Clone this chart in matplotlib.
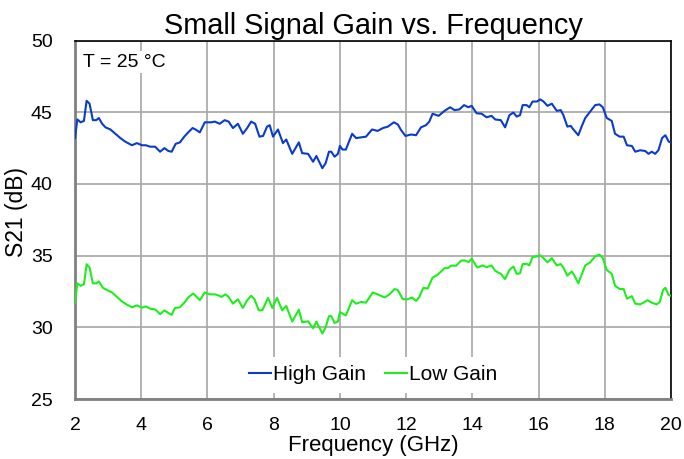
import matplotlib
matplotlib.use("Agg")
import matplotlib.pyplot as plt

plt.rcParams['font.family'] = ['Liberation Sans', 'DejaVu Sans']

# High Gain (blue) readings
hg_freq = [2.0, 2.07, 2.17, 2.27, 2.35, 2.44, 2.54, 2.64, 2.72, 2.82, 2.92, 3.07, 3.22, 3.37,
           3.52, 3.72, 3.87, 4.02, 4.14, 4.27, 4.42, 4.57, 4.7, 4.82, 4.92, 5.04, 5.17, 5.3,
           5.42, 5.55, 5.64, 5.77, 5.92, 6.12, 6.22, 6.37, 6.52, 6.64, 6.77, 6.92, 7.07, 7.2,
           7.32, 7.44, 7.57, 7.68, 7.8, 7.88, 7.98, 8.13, 8.28, 8.38, 8.56, 8.76, 8.86, 9.04,
           9.19, 9.29, 9.47, 9.57, 9.67, 9.74, 9.84, 9.94, 10.0, 10.08, 10.18, 10.37, 10.49,
           10.64, 10.79, 10.97, 11.14, 11.3, 11.45, 11.63, 11.75, 11.85, 11.98, 12.15, 12.3,
           12.45, 12.6, 12.7, 12.8, 12.98, 13.16, 13.33, 13.46, 13.61, 13.75, 13.88, 13.98,
           14.13, 14.28, 14.43, 14.58, 14.69, 14.86, 14.99, 15.12, 15.24, 15.34, 15.44, 15.52,
           15.64, 15.72, 15.82, 15.95, 16.05, 16.15, 16.27, 16.4, 16.55, 16.67, 16.75, 16.87,
           16.97, 17.07, 17.2, 17.3, 17.41, 17.56, 17.71, 17.84, 17.94, 18.06, 18.21, 18.31,
           18.45, 18.57, 18.67, 18.82, 18.92, 19.07, 19.22, 19.32, 19.42, 19.52, 19.62, 19.73,
           19.83, 19.93, 20.0]
hg_s21 = [43.2, 44.5, 44.3, 44.4, 45.8, 45.6, 44.45, 44.45, 44.6, 44.2, 43.95, 43.8, 43.5, 43.2,
          42.95, 42.7, 42.85, 42.7, 42.7, 42.6, 42.6, 42.25, 42.5, 42.3, 42.25, 42.8, 42.9, 43.3,
          43.6, 43.9, 43.8, 43.6, 44.3, 44.3, 44.35, 44.2, 44.45, 44.35, 43.9, 44.2, 43.5, 43.9,
          44.35, 44.2, 43.3, 43.35, 44.0, 44.1, 43.3, 43.8, 42.85, 43.1, 42.1, 42.9, 42.15, 42.1,
          41.55, 41.95, 41.1, 41.45, 42.25, 42.25, 41.9, 42.1, 42.65, 42.4, 42.4, 43.5, 43.2,
          43.25, 43.3, 43.8, 43.7, 43.9, 44.0, 44.3, 44.15, 43.75, 43.35, 43.45, 43.4,
          43.95, 44.1, 44.35, 44.9, 44.75, 45.1, 45.35, 45.15, 45.2, 45.5, 45.35, 45.45,
          44.93, 44.9, 44.65, 44.75, 44.5, 44.45, 43.95, 44.8, 44.98, 44.7, 44.8, 45.5,
          45.5, 45.35, 45.75, 45.75, 45.9, 45.75, 45.45, 45.6, 45.1, 45.15, 44.8, 44.0,
          44.05, 43.75, 43.4, 44.0, 44.6, 45.05, 45.5, 45.55, 45.35, 44.6, 44.4, 43.5,
          43.3, 43.3, 42.7, 42.65, 42.25, 42.35, 42.3, 42.1, 42.25, 42.1, 42.35, 43.2,
          43.4, 42.95, 42.9]

# Low Gain (green) readings
lg_freq = [2.0, 2.07, 2.17, 2.27, 2.35, 2.44, 2.54, 2.64, 2.72, 2.84, 2.97, 3.12, 3.27, 3.42,
           3.57, 3.72, 3.87, 4.02, 4.14, 4.27, 4.42, 4.57, 4.7, 4.82, 4.92, 5.02, 5.17, 5.32,
           5.42, 5.57, 5.64, 5.77, 5.92, 6.07, 6.22, 6.32, 6.42, 6.54, 6.64, 6.77, 6.92, 7.07,
           7.2, 7.32, 7.42, 7.55, 7.66, 7.83, 7.96, 8.1, 8.26, 8.38, 8.56, 8.76, 8.86, 9.04,
           9.19, 9.29, 9.47, 9.57, 9.67, 9.74, 9.84, 9.94, 10.0, 10.18, 10.37, 10.49, 10.64,
           10.79, 10.99, 11.14, 11.35, 11.5, 11.65, 11.75, 11.9, 12.05, 12.18, 12.3, 12.4,
           12.52, 12.65, 12.8, 12.95, 13.16, 13.26, 13.36, 13.51, 13.66, 13.76, 13.89, 13.98,
           14.15, 14.31, 14.43, 14.58, 14.69, 14.86, 14.99, 15.12, 15.24, 15.34, 15.44, 15.52,
           15.64, 15.72, 15.82, 15.95, 16.05, 16.15, 16.27, 16.4, 16.55, 16.67, 16.75, 16.87,
           17.0, 17.07, 17.2, 17.3, 17.41, 17.56, 17.71, 17.84, 17.94, 18.06, 18.21, 18.31,
           18.45, 18.57, 18.67, 18.82, 18.92, 19.07, 19.15, 19.29, 19.42, 19.57, 19.66, 19.76,
           19.83, 19.93, 20.0]
lg_s21 = [31.7, 33.07, 32.9, 33.0, 34.4, 34.17, 33.07, 33.07, 33.2, 32.76, 32.6, 32.43, 32.12, 31.8,
          31.58, 31.4, 31.53, 31.37, 31.46, 31.3, 31.25, 30.92, 31.18, 31.0, 30.87, 31.35, 31.4, 31.77,
          32.08, 32.36, 32.2, 31.89, 32.43, 32.3, 32.3, 32.24, 32.12, 32.3, 32.12, 31.65, 31.96, 31.35,
          31.89, 32.2, 31.96, 31.18, 31.2, 32.05, 31.35, 32.05, 31.18, 31.49, 30.4, 31.23, 30.35, 30.42,
          29.93, 30.4, 29.57, 30.0, 30.78, 30.78, 30.3, 30.4, 31.06, 30.83, 31.89, 31.65, 31.77,
          31.72, 32.43, 32.3, 32.08, 32.3, 32.67, 32.6, 31.96, 31.96, 32.08, 31.84, 32.12,
          32.76, 32.7, 33.47, 33.66, 34.13, 34.13, 34.3, 34.3, 34.65, 34.67, 34.55, 34.79,
          34.17, 34.32, 34.2, 34.32, 33.94, 33.73, 33.37, 34.0, 34.25, 33.73, 33.77, 34.41,
          34.43, 34.32, 34.9, 34.95, 35.02, 34.83, 34.53, 34.83, 34.32, 34.41, 34.17, 33.6,
          33.9, 33.66, 33.07, 33.66, 34.32, 34.53, 34.95, 35.07, 34.83, 34.0, 33.73, 32.9,
          32.67, 32.67, 32.0, 32.17, 31.65, 31.6, 31.7, 31.89, 31.72, 31.6, 31.77, 32.6,
          32.76, 32.24, 32.2]

x_ticks = [2, 4, 6, 8, 10, 12, 14, 16, 18, 20]
y_ticks = [25, 30, 35, 40, 45, 50]

fig = plt.figure(figsize=(6.84, 4.59), dpi=100)
ax = fig.add_axes([75/684, (459-399)/459, 596/684, 358.4/459])

ax.plot(hg_freq, hg_s21, color='#0A3CCB', lw=1.5, label='High Gain', zorder=3)
ax.plot(lg_freq, lg_s21, color='#1EEE1E', lw=1.5, label='Low Gain', zorder=3)

ax.set_xlim(2, 20)
ax.set_ylim(25, 50)
ax.set_xticks(x_ticks)
ax.set_yticks(y_ticks)
ax.grid(True, color='#a6a6a6', lw=1.2, zorder=0)
ax.set_axisbelow(True)
ax.tick_params(length=0, labelsize=14, pad=13)
ax.tick_params(axis='y', pad=16)

for s in ['left', 'bottom']:
    ax.spines[s].set_color('#808080')
    ax.spines[s].set_linewidth(2)
for s in ['top', 'right']:
    ax.spines[s].set_color('black')
    ax.spines[s].set_linewidth(1.2)

ax.set_xlabel('Frequency (GHz)', fontsize=16, labelpad=1)
ax.set_ylabel('S21 (dB)', fontsize=16.5)
ax.yaxis.set_label_coords(-0.079, 0.523)
ax.set_title('Small Signal Gain vs. Frequency', fontsize=20.8, pad=5)

ax.text(0.013, 0.94, 'T = 25 °C', transform=ax.transAxes, fontsize=14,
        ha='left', va='center', bbox=dict(facecolor='white', edgecolor='none', pad=2), zorder=4)

leg = ax.legend(loc='lower center', ncol=2, frameon=True, fontsize=15,
                handlelength=1.05, handletextpad=0.12, columnspacing=0.9,
                bbox_to_anchor=(0.5, 0.0), borderaxespad=0.3)
leg.get_frame().set_edgecolor('none')
leg.get_frame().set_facecolor('white')
leg.get_frame().set_alpha(1.0)

fig.savefig('out.png', dpi=100)
